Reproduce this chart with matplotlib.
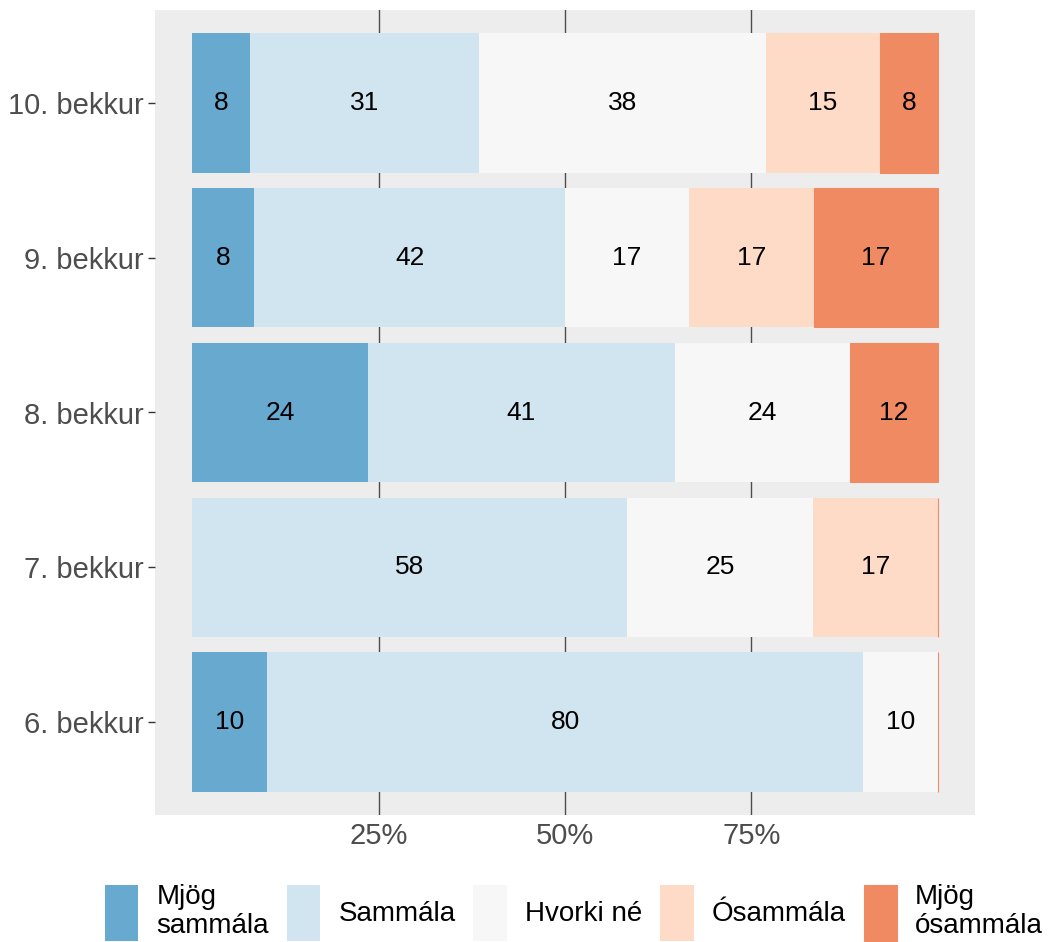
import matplotlib
matplotlib.use("Agg")
import matplotlib.pyplot as plt
import numpy as np

plt.rcParams['font.family'] = ['Liberation Sans', 'DejaVu Sans']

# Data (percent), classes listed bottom to top
classes = ["6. bekkur", "7. bekkur", "8. bekkur", "9. bekkur", "10. bekkur"]
responses = ["Mjög sammála", "Sammála", "Hvorki né", "Ósammála", "Mjög ósammála"]
colors = ["#67A9CF", "#D1E5F0", "#F7F7F7", "#FDDBC7", "#EF8A62"]

mjog_sammala   = [10.0,  0.0, 23.53,  8.33,  7.69]
sammala        = [80.0, 58.33, 41.18, 41.67, 30.77]
hvorki_ne      = [10.0, 25.0, 23.53, 16.67, 38.46]
osammala       = [0.0, 16.67,  0.0, 16.67, 15.38]
mjog_osammala  = [0.0,  0.0, 11.76, 16.67,  7.69]

series = [mjog_sammala, sammala, hvorki_ne, osammala, mjog_osammala]
xticks = [25, 50, 75]
xticklabels = ["25%", "50%", "75%"]

fig = plt.figure(figsize=(10.5, 9.42), dpi=100)
ax = fig.add_axes([155/1050, 1 - 815/942, 820/1050, 805/942])
ax.set_facecolor("#EDEDED")

ypos = np.arange(len(classes))
left = np.zeros(len(classes))
for i, (name, vals, col) in enumerate(zip(responses, series, colors)):
    vals = np.array(vals)
    lw = 0.8 if i == len(responses) - 1 else 0
    ax.barh(ypos, vals, left=left, height=0.9, color=col, edgecolor=col,
            linewidth=lw, label=name, zorder=2)
    for y, l, v in zip(ypos, left, vals):
        if v > 0:
            ax.text(l + v / 2, y, f"{v:.0f}", ha="center", va="center",
                    fontsize=19, color="black", zorder=3)
    left = left + vals

ax.set_xlim(-5, 105)
ax.set_ylim(-0.6, len(classes) - 0.4)
ax.set_xticks(xticks)
ax.set_xticklabels(xticklabels)
ax.set_yticks(ypos)
ax.set_yticklabels(classes)
ax.grid(axis="x", color="#4D4D4D", linewidth=1.0, zorder=1)
ax.set_axisbelow(True)
for s in ax.spines.values():
    s.set_visible(False)
ax.tick_params(axis="x", length=0, labelsize=21, labelcolor="#4D4D4D", pad=5)
ax.tick_params(axis="y", length=5, width=1, color="#333333", labelsize=21,
               labelcolor="#4D4D4D", pad=3)

handles, labels = ax.get_legend_handles_labels()
labels = [l.replace("Mjög ", "Mjög\n") for l in labels]
leg = fig.legend(handles, labels, loc="lower center", ncol=5, frameon=False,
                 bbox_to_anchor=(574/1050, -0.025), fontsize=20,
                 handlelength=1.2, handleheight=2.7, handletextpad=0.65,
                 columnspacing=0.65, labelspacing=0.2)
for t in leg.get_texts():
    t.set_linespacing(1.15)

fig.savefig("out.png", dpi=100)
